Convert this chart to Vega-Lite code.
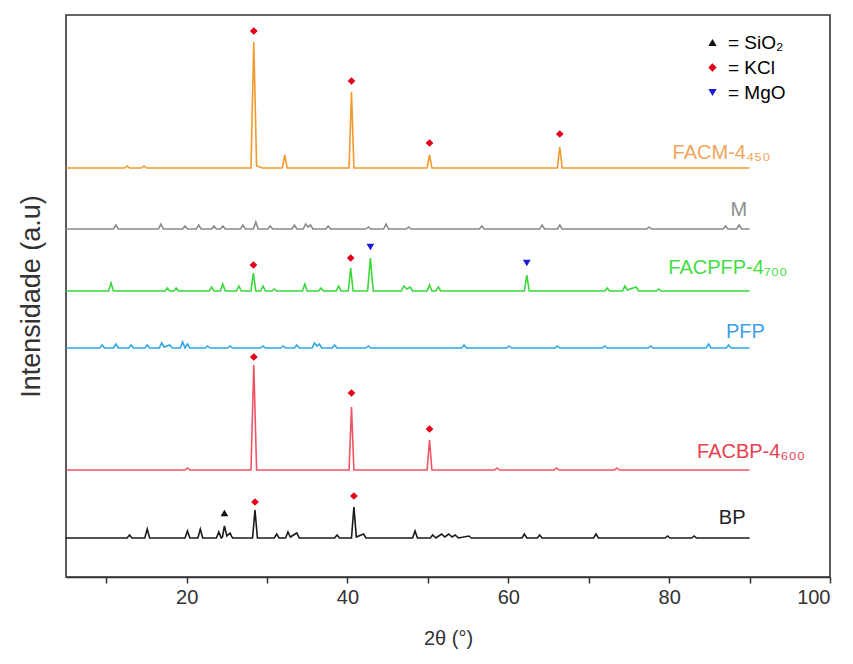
{
  "$schema": "https://vega.github.io/schema/vega-lite/v6.json",
  "width": 764,
  "height": 562,
  "autosize": {"type": "none"},
  "padding": {"left": 66, "top": 15, "right": 23, "bottom": 87},
  "background": "white",
  "config": {
    "font": "Liberation Sans",
    "view": {"stroke": "#333333", "strokeWidth": 1.6}
  },
  "datasets": {
    "traces": [
      {"s":"BP","x":5,"y":39},{"s":"BP","x":12.6,"y":39},{"s":"BP","x":12.9,"y":42},{"s":"BP","x":13.2,"y":39},
      {"s":"BP","x":14.8,"y":39},{"s":"BP","x":15.1,"y":48},{"s":"BP","x":15.4,"y":39},
      {"s":"BP","x":19.8,"y":39},{"s":"BP","x":20.1,"y":46},{"s":"BP","x":20.4,"y":39},
      {"s":"BP","x":21.4,"y":39},{"s":"BP","x":21.7,"y":48},{"s":"BP","x":22.0,"y":39},
      {"s":"BP","x":23.7,"y":39},{"s":"BP","x":24.0,"y":45},{"s":"BP","x":24.3,"y":39},{"s":"BP","x":24.45,"y":40},
      {"s":"BP","x":24.7,"y":51},{"s":"BP","x":25.0,"y":41},{"s":"BP","x":25.4,"y":44},{"s":"BP","x":25.7,"y":39},
      {"s":"BP","x":28.2,"y":39},{"s":"BP","x":28.5,"y":67},{"s":"BP","x":28.8,"y":39},
      {"s":"BP","x":30.9,"y":39},{"s":"BP","x":31.2,"y":43},{"s":"BP","x":31.5,"y":39},
      {"s":"BP","x":32.3,"y":39},{"s":"BP","x":32.6,"y":45},{"s":"BP","x":32.9,"y":40},{"s":"BP","x":33.7,"y":44},{"s":"BP","x":34.0,"y":39},
      {"s":"BP","x":38.4,"y":39},{"s":"BP","x":38.7,"y":42},{"s":"BP","x":39.0,"y":39},
      {"s":"BP","x":40.5,"y":39},{"s":"BP","x":40.8,"y":70},{"s":"BP","x":41.1,"y":40},{"s":"BP","x":42.0,"y":43},{"s":"BP","x":42.3,"y":39},
      {"s":"BP","x":48.1,"y":39},{"s":"BP","x":48.4,"y":46},{"s":"BP","x":48.7,"y":39},
      {"s":"BP","x":50.3,"y":39},{"s":"BP","x":50.6,"y":42},{"s":"BP","x":51.0,"y":39},{"s":"BP","x":51.7,"y":43},{"s":"BP","x":52.1,"y":40},
      {"s":"BP","x":52.6,"y":43},{"s":"BP","x":53.0,"y":40},{"s":"BP","x":53.4,"y":42},{"s":"BP","x":53.8,"y":39},{"s":"BP","x":55.1,"y":41},{"s":"BP","x":55.4,"y":39},
      {"s":"BP","x":61.7,"y":39},{"s":"BP","x":62.0,"y":43},{"s":"BP","x":62.3,"y":39},
      {"s":"BP","x":63.6,"y":39},{"s":"BP","x":63.9,"y":42},{"s":"BP","x":64.2,"y":39},
      {"s":"BP","x":70.6,"y":39},{"s":"BP","x":70.9,"y":43},{"s":"BP","x":71.2,"y":39},
      {"s":"BP","x":79.5,"y":39},{"s":"BP","x":79.8,"y":41},{"s":"BP","x":80.1,"y":39},
      {"s":"BP","x":82.8,"y":39},{"s":"BP","x":83.1,"y":41},{"s":"BP","x":83.4,"y":39},{"s":"BP","x":90,"y":39},

      {"s":"FACBP","x":5,"y":107},{"s":"FACBP","x":19.8,"y":107},{"s":"FACBP","x":20.1,"y":109},{"s":"FACBP","x":20.4,"y":107},
      {"s":"FACBP","x":28.0,"y":107},{"s":"FACBP","x":28.35,"y":212},{"s":"FACBP","x":28.7,"y":107},
      {"s":"FACBP","x":40.2,"y":107},{"s":"FACBP","x":40.5,"y":170},{"s":"FACBP","x":40.8,"y":107},
      {"s":"FACBP","x":49.9,"y":107},{"s":"FACBP","x":50.2,"y":137},{"s":"FACBP","x":50.5,"y":107},
      {"s":"FACBP","x":58.3,"y":107},{"s":"FACBP","x":58.6,"y":109},{"s":"FACBP","x":58.9,"y":107},
      {"s":"FACBP","x":65.7,"y":107},{"s":"FACBP","x":66.0,"y":109},{"s":"FACBP","x":66.3,"y":107},
      {"s":"FACBP","x":73.2,"y":107},{"s":"FACBP","x":73.5,"y":109},{"s":"FACBP","x":73.8,"y":107},{"s":"FACBP","x":90,"y":107},

      {"s":"PFP","x":5,"y":229},{"s":"PFP","x":9.2,"y":229},{"s":"PFP","x":9.5,"y":232},{"s":"PFP","x":9.8,"y":229},
      {"s":"PFP","x":10.9,"y":229},{"s":"PFP","x":11.2,"y":233},{"s":"PFP","x":11.5,"y":229},
      {"s":"PFP","x":12.8,"y":229},{"s":"PFP","x":13.1,"y":232},{"s":"PFP","x":13.4,"y":229},
      {"s":"PFP","x":14.8,"y":229},{"s":"PFP","x":15.1,"y":232},{"s":"PFP","x":15.4,"y":229},
      {"s":"PFP","x":16.6,"y":229},{"s":"PFP","x":16.9,"y":234},{"s":"PFP","x":17.2,"y":230},{"s":"PFP","x":17.9,"y":232},{"s":"PFP","x":18.2,"y":229},
      {"s":"PFP","x":19.2,"y":229},{"s":"PFP","x":19.5,"y":235},{"s":"PFP","x":19.8,"y":229},{"s":"PFP","x":20.1,"y":233},{"s":"PFP","x":20.4,"y":229},
      {"s":"PFP","x":22.3,"y":229},{"s":"PFP","x":22.6,"y":231},{"s":"PFP","x":22.9,"y":229},
      {"s":"PFP","x":25.1,"y":229},{"s":"PFP","x":25.4,"y":231},{"s":"PFP","x":25.7,"y":229},
      {"s":"PFP","x":29.2,"y":229},{"s":"PFP","x":29.5,"y":231},{"s":"PFP","x":29.8,"y":229},
      {"s":"PFP","x":31.7,"y":229},{"s":"PFP","x":32.0,"y":231},{"s":"PFP","x":32.3,"y":229},
      {"s":"PFP","x":33.4,"y":229},{"s":"PFP","x":33.7,"y":232},{"s":"PFP","x":34.0,"y":229},
      {"s":"PFP","x":35.6,"y":229},{"s":"PFP","x":35.9,"y":234},{"s":"PFP","x":36.2,"y":231},{"s":"PFP","x":36.5,"y":233},{"s":"PFP","x":36.8,"y":229},
      {"s":"PFP","x":38.1,"y":229},{"s":"PFP","x":38.4,"y":232},{"s":"PFP","x":38.7,"y":229},
      {"s":"PFP","x":42.3,"y":229},{"s":"PFP","x":42.6,"y":231},{"s":"PFP","x":42.9,"y":229},
      {"s":"PFP","x":54.2,"y":229},{"s":"PFP","x":54.5,"y":232},{"s":"PFP","x":54.8,"y":229},
      {"s":"PFP","x":59.8,"y":229},{"s":"PFP","x":60.1,"y":231},{"s":"PFP","x":60.4,"y":229},
      {"s":"PFP","x":65.8,"y":229},{"s":"PFP","x":66.1,"y":231},{"s":"PFP","x":66.4,"y":229},
      {"s":"PFP","x":71.7,"y":229},{"s":"PFP","x":72.0,"y":231},{"s":"PFP","x":72.3,"y":229},
      {"s":"PFP","x":77.4,"y":229},{"s":"PFP","x":77.7,"y":231},{"s":"PFP","x":78.0,"y":229},
      {"s":"PFP","x":84.6,"y":229},{"s":"PFP","x":84.9,"y":233},{"s":"PFP","x":85.2,"y":229},
      {"s":"PFP","x":87.1,"y":229},{"s":"PFP","x":87.4,"y":232},{"s":"PFP","x":87.7,"y":229},{"s":"PFP","x":90,"y":229},

      {"s":"FACPFP","x":5,"y":286},{"s":"FACPFP","x":10.3,"y":286},{"s":"FACPFP","x":10.6,"y":294},{"s":"FACPFP","x":10.9,"y":286},
      {"s":"FACPFP","x":17.3,"y":286},{"s":"FACPFP","x":17.6,"y":289},{"s":"FACPFP","x":17.9,"y":286},
      {"s":"FACPFP","x":18.4,"y":286},{"s":"FACPFP","x":18.7,"y":289},{"s":"FACPFP","x":19.0,"y":286},
      {"s":"FACPFP","x":22.8,"y":286},{"s":"FACPFP","x":23.1,"y":290},{"s":"FACPFP","x":23.4,"y":286},
      {"s":"FACPFP","x":24.2,"y":286},{"s":"FACPFP","x":24.5,"y":293},{"s":"FACPFP","x":24.8,"y":286},
      {"s":"FACPFP","x":26.2,"y":286},{"s":"FACPFP","x":26.5,"y":291},{"s":"FACPFP","x":26.8,"y":286},
      {"s":"FACPFP","x":28.0,"y":286},{"s":"FACPFP","x":28.3,"y":304},{"s":"FACPFP","x":28.6,"y":286},
      {"s":"FACPFP","x":29.2,"y":286},{"s":"FACPFP","x":29.5,"y":291},{"s":"FACPFP","x":29.8,"y":286},
      {"s":"FACPFP","x":30.6,"y":286},{"s":"FACPFP","x":30.9,"y":288},{"s":"FACPFP","x":31.2,"y":286},
      {"s":"FACPFP","x":34.4,"y":286},{"s":"FACPFP","x":34.7,"y":293},{"s":"FACPFP","x":35.0,"y":286},
      {"s":"FACPFP","x":36.4,"y":286},{"s":"FACPFP","x":36.7,"y":289},{"s":"FACPFP","x":37.0,"y":286},
      {"s":"FACPFP","x":38.6,"y":286},{"s":"FACPFP","x":38.9,"y":291},{"s":"FACPFP","x":39.2,"y":286},
      {"s":"FACPFP","x":40.1,"y":286},{"s":"FACPFP","x":40.4,"y":309},{"s":"FACPFP","x":40.7,"y":286},
      {"s":"FACPFP","x":42.5,"y":286},{"s":"FACPFP","x":42.85,"y":319},{"s":"FACPFP","x":43.2,"y":286},
      {"s":"FACPFP","x":46.7,"y":286},{"s":"FACPFP","x":47.0,"y":291},{"s":"FACPFP","x":47.4,"y":288},{"s":"FACPFP","x":47.8,"y":290},{"s":"FACPFP","x":48.1,"y":286},
      {"s":"FACPFP","x":49.9,"y":286},{"s":"FACPFP","x":50.2,"y":292},{"s":"FACPFP","x":50.5,"y":286},
      {"s":"FACPFP","x":51.0,"y":286},{"s":"FACPFP","x":51.3,"y":290},{"s":"FACPFP","x":51.6,"y":286},
      {"s":"FACPFP","x":62.0,"y":286},{"s":"FACPFP","x":62.3,"y":302},{"s":"FACPFP","x":62.6,"y":286},
      {"s":"FACPFP","x":72.0,"y":286},{"s":"FACPFP","x":72.3,"y":289},{"s":"FACPFP","x":72.6,"y":286},
      {"s":"FACPFP","x":74.2,"y":286},{"s":"FACPFP","x":74.5,"y":291},{"s":"FACPFP","x":74.8,"y":287},{"s":"FACPFP","x":75.9,"y":290},{"s":"FACPFP","x":76.2,"y":286},
      {"s":"FACPFP","x":78.4,"y":286},{"s":"FACPFP","x":78.7,"y":288},{"s":"FACPFP","x":79.0,"y":286},{"s":"FACPFP","x":90,"y":286},

      {"s":"M","x":5,"y":348},{"s":"M","x":10.9,"y":348},{"s":"M","x":11.2,"y":352},{"s":"M","x":11.5,"y":348},
      {"s":"M","x":16.5,"y":348},{"s":"M","x":16.8,"y":353},{"s":"M","x":17.1,"y":348},
      {"s":"M","x":19.5,"y":348},{"s":"M","x":19.8,"y":351},{"s":"M","x":20.1,"y":348},
      {"s":"M","x":21.2,"y":348},{"s":"M","x":21.5,"y":352},{"s":"M","x":21.8,"y":348},
      {"s":"M","x":23.1,"y":348},{"s":"M","x":23.4,"y":351},{"s":"M","x":23.7,"y":348},
      {"s":"M","x":24.2,"y":348},{"s":"M","x":24.5,"y":351},{"s":"M","x":24.8,"y":348},
      {"s":"M","x":26.7,"y":348},{"s":"M","x":27.0,"y":352},{"s":"M","x":27.3,"y":348},
      {"s":"M","x":28.3,"y":348},{"s":"M","x":28.6,"y":355},{"s":"M","x":28.9,"y":348},
      {"s":"M","x":30.1,"y":348},{"s":"M","x":30.4,"y":351},{"s":"M","x":30.7,"y":348},
      {"s":"M","x":33.1,"y":348},{"s":"M","x":33.4,"y":352},{"s":"M","x":33.7,"y":348},
      {"s":"M","x":34.5,"y":348},{"s":"M","x":34.8,"y":353},{"s":"M","x":35.1,"y":350},{"s":"M","x":35.4,"y":352},{"s":"M","x":35.7,"y":348},
      {"s":"M","x":37.3,"y":348},{"s":"M","x":37.6,"y":351},{"s":"M","x":37.9,"y":348},
      {"s":"M","x":42.3,"y":348},{"s":"M","x":42.6,"y":350},{"s":"M","x":42.9,"y":348},
      {"s":"M","x":44.5,"y":348},{"s":"M","x":44.8,"y":353},{"s":"M","x":45.1,"y":348},
      {"s":"M","x":47.3,"y":348},{"s":"M","x":47.6,"y":350},{"s":"M","x":47.9,"y":348},
      {"s":"M","x":56.4,"y":348},{"s":"M","x":56.7,"y":351},{"s":"M","x":57.0,"y":348},
      {"s":"M","x":63.9,"y":348},{"s":"M","x":64.2,"y":352},{"s":"M","x":64.5,"y":348},
      {"s":"M","x":66.1,"y":348},{"s":"M","x":66.4,"y":352},{"s":"M","x":66.7,"y":348},
      {"s":"M","x":77.2,"y":348},{"s":"M","x":77.5,"y":350},{"s":"M","x":77.8,"y":348},
      {"s":"M","x":86.7,"y":348},{"s":"M","x":87.0,"y":351},{"s":"M","x":87.3,"y":348},
      {"s":"M","x":88.4,"y":348},{"s":"M","x":88.7,"y":352},{"s":"M","x":89.0,"y":348},{"s":"M","x":90,"y":348},

      {"s":"FACM","x":5,"y":409},{"s":"FACM","x":12.3,"y":409},{"s":"FACM","x":12.6,"y":411},{"s":"FACM","x":12.9,"y":409},
      {"s":"FACM","x":14.4,"y":409},{"s":"FACM","x":14.7,"y":411},{"s":"FACM","x":15.0,"y":409},
      {"s":"FACM","x":28.0,"y":409},{"s":"FACM","x":28.35,"y":535},{"s":"FACM","x":28.7,"y":411},{"s":"FACM","x":29.1,"y":410},{"s":"FACM","x":29.4,"y":409},
      {"s":"FACM","x":31.9,"y":409},{"s":"FACM","x":32.2,"y":422},{"s":"FACM","x":32.5,"y":409},
      {"s":"FACM","x":40.2,"y":409},{"s":"FACM","x":40.5,"y":485},{"s":"FACM","x":40.8,"y":409},
      {"s":"FACM","x":49.9,"y":409},{"s":"FACM","x":50.2,"y":422},{"s":"FACM","x":50.5,"y":409},
      {"s":"FACM","x":66.1,"y":409},{"s":"FACM","x":66.4,"y":430},{"s":"FACM","x":66.7,"y":409},{"s":"FACM","x":90,"y":409}
    ],
    "markers": [
      {"phase":"SiO₂","x":24.7,"y":64},
      {"phase":"KCl","x":28.5,"y":75},{"phase":"KCl","x":40.8,"y":81},
      {"phase":"KCl","x":28.35,"y":220},{"phase":"KCl","x":40.5,"y":184},{"phase":"KCl","x":50.2,"y":148},
      {"phase":"KCl","x":28.3,"y":312},{"phase":"KCl","x":40.4,"y":319},
      {"phase":"MgO","x":42.85,"y":330},{"phase":"MgO","x":62.3,"y":314},
      {"phase":"KCl","x":28.35,"y":546},{"phase":"KCl","x":40.5,"y":496},{"phase":"KCl","x":50.2,"y":434},{"phase":"KCl","x":66.4,"y":443}
    ],
    "labels": [
      {"s":"FACM","label":"FACM-4₄₅₀","x":92.6,"y":424},
      {"s":"M","label":"M","x":89.7,"y":367},
      {"s":"FACPFP","label":"FACPFP-4₇₀₀","x":94.7,"y":309},
      {"s":"PFP","label":"PFP","x":91.9,"y":245},
      {"s":"FACBP","label":"FACBP-4₆₀₀","x":96.9,"y":125},
      {"s":"BP","label":"BP","x":89.5,"y":59}
    ]
  },
  "layer": [
    {
      "data": {"name": "traces"},
      "mark": {"type": "line", "strokeWidth": 1.6, "interpolate": "linear"},
      "encoding": {
        "x": {"field": "x", "type": "quantitative",
          "scale": {"domain": [5, 100], "nice": false, "zero": false},
          "axis": {"title": "2θ (°)", "values": [10,20,30,40,50,60,70,80,90,100],
            "labelExpr": "datum.value % 20 === 0 ? datum.label : ''",
            "labelOverlap": false, "grid": false,
            "domainColor": "#333333", "domainWidth": 1.6,
            "tickColor": "#333333", "tickWidth": 1.5, "tickSize": 6,
            "labelFontSize": 20, "labelColor": "#333333", "labelPadding": 4,
            "titleFontSize": 20, "titleFontWeight": "normal", "titleColor": "#333333", "titlePadding": 21}},
        "y": {"field": "y", "type": "quantitative",
          "scale": {"domain": [0, 562], "nice": false, "zero": false},
          "axis": {"title": "Intensidade (a.u)", "labels": false, "ticks": false, "grid": false, "domain": false,
            "titleFontSize": 27, "titleFontWeight": "normal", "titleColor": "#333333", "titlePadding": 21}},
        "stroke": {"field": "s", "type": "nominal", "legend": null,
          "scale": {"domain": ["BP","FACBP","PFP","FACPFP","M","FACM"],
            "range": ["#1a1a1a","#ee5564","#2ea8e6","#3ad83a","#8a8a8a","#f39a2c"]}},
        "detail": {"field": "s"}
      }
    },
    {
      "data": {"name": "labels"},
      "mark": {"type": "text", "align": "right", "baseline": "middle", "fontSize": 20},
      "encoding": {
        "x": {"field": "x", "type": "quantitative"},
        "y": {"field": "y", "type": "quantitative"},
        "text": {"field": "label"},
        "color": {"field": "s", "type": "nominal", "legend": null,
          "scale": {"domain": ["BP","FACBP","PFP","FACPFP","M","FACM"],
            "range": ["#222222","#e8404f","#3d9fe8","#44dd44","#8f8f8f","#f2a55c"]}}
      }
    },
    {
      "data": {"name": "markers"},
      "mark": {"type": "point", "filled": true, "size": 60, "strokeWidth": 0, "opacity": 1},
      "encoding": {
        "x": {"field": "x", "type": "quantitative"},
        "y": {"field": "y", "type": "quantitative"},
        "fill": {"field": "phase", "type": "nominal",
          "scale": {"domain": ["SiO₂","KCl","MgO"], "range": ["#111111","#e3001b","#1c1cd8"]},
          "legend": {"title": null, "orient": "none", "legendX": 637, "legendY": 18,
            "labelExpr": "'= ' + datum.label", "labelFontSize": 19, "symbolSize": 70,
            "rowPadding": 5, "labelOffset": 6, "symbolStrokeWidth": 0,
            "encode": {"labels": {"update": {"fill": {"signal": "datum.value === 'KCl' ? '#e3001b' : datum.value === 'MgO' ? '#1c1cd8' : '#111111'"}}}}}},
        "shape": {"field": "phase", "type": "nominal",
          "scale": {"domain": ["SiO₂","KCl","MgO"], "range": ["triangle-up","diamond","triangle-down"]},
          "legend": {"title": null, "orient": "none", "legendX": 637, "legendY": 18,
            "labelExpr": "'= ' + datum.label", "labelFontSize": 19, "symbolSize": 70,
            "rowPadding": 5, "labelOffset": 6, "symbolStrokeWidth": 0,
            "encode": {"labels": {"update": {"fill": {"signal": "datum.value === 'KCl' ? '#e3001b' : datum.value === 'MgO' ? '#1c1cd8' : '#111111'"}}}}}}
      }
    }
  ]
}
